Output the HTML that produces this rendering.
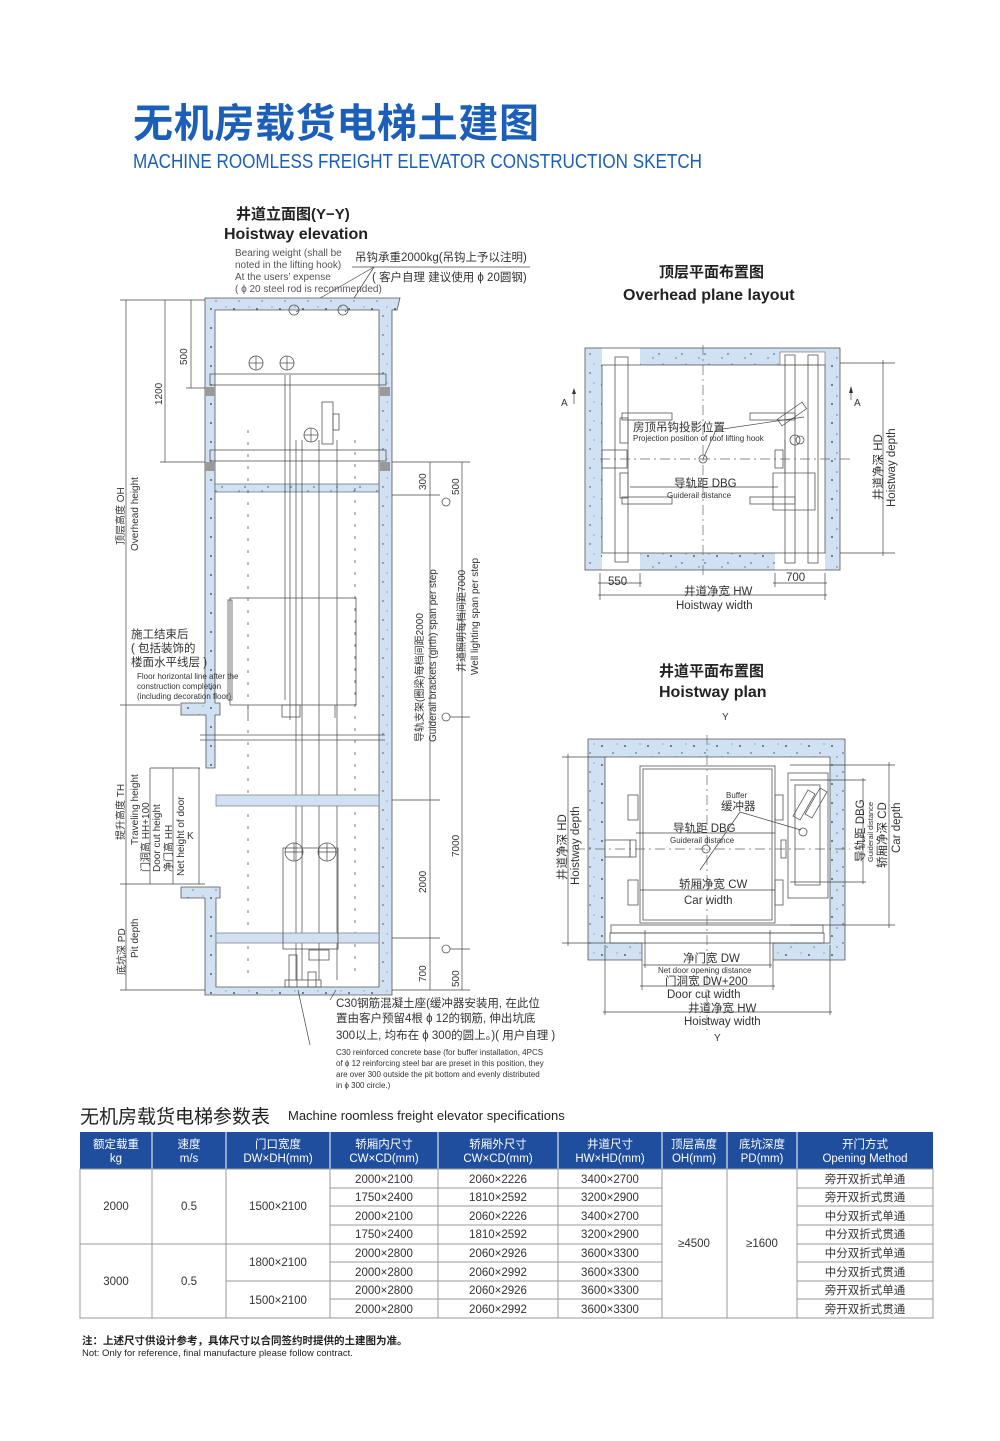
<!DOCTYPE html>
<html><head><meta charset="utf-8"><style>
html,body{margin:0;padding:0;background:#fff}
svg{display:block}
text{font-family:"Liberation Sans","Noto Sans CJK SC",sans-serif;fill:#333}
.s{font-size:10px}
.xs{font-size:8px}
.m{font-size:11.5px}
.w{fill:#cfe1f3;stroke:#666;stroke-width:1}
.wp{fill:url(#dots);stroke:none}
.l{stroke:#555;stroke-width:0.8;fill:none}
.t{stroke:#444;stroke-width:0.7;fill:none}
.d{stroke:#666;stroke-width:0.7;fill:none;stroke-dasharray:10 4 2 4}
.tb text{font-size:11.5px;fill:#333}
</style></head><body>
<svg width="1000" height="1441" viewBox="0 0 1000 1441" xmlns="http://www.w3.org/2000/svg">
<defs>
<pattern id="dots" width="23" height="19" patternUnits="userSpaceOnUse">
<rect width="23" height="19" fill="#cfe1f3"/>
<circle cx="4" cy="5" r="0.9" fill="#333"/><circle cx="15" cy="12" r="0.7" fill="#444"/><circle cx="19" cy="3" r="0.5" fill="#555"/><circle cx="9" cy="16" r="0.6" fill="#444"/>
</pattern>
</defs>
<rect width="1000" height="1441" fill="#fff"/>

<!-- Title -->
<text x="133" y="137" style="font-size:40px;font-weight:bold;fill:#1b5fb8;letter-spacing:1px" textLength="407">无机房载货电梯土建图</text>
<text x="133" y="168" style="font-size:20px;fill:#1b5fb8" textLength="569" lengthAdjust="spacingAndGlyphs">MACHINE ROOMLESS FREIGHT ELEVATOR CONSTRUCTION SKETCH</text>

<!-- Elevation headings -->
<text x="236" y="219" style="font-size:15px;font-weight:bold;fill:#222">井道立面图(Y−Y)</text>
<text x="224" y="239" style="font-size:16px;font-weight:bold;fill:#222">Hoistway elevation</text>
<text x="235" y="256" class="s" style="fill:#555">Bearing weight (shall be</text>
<text x="235" y="268" class="s" style="fill:#555">noted in the lifting hook)</text>
<text x="235" y="280" class="s" style="fill:#555">At the users’  expense</text>
<text x="235" y="292" class="s" style="fill:#555">( ϕ 20 steel rod is recommended)</text>
<text x="355" y="261" class="m">吊钩承重2000kg(吊钩上予以注明)</text>
<text x="372" y="281" class="m">( 客户自理 建议使用 ϕ 20圆钢)</text>
<line class="t" x1="352" y1="267" x2="530" y2="267"/>
<line class="t" x1="374" y1="267" x2="296" y2="312"/>
<line class="t" x1="374" y1="267" x2="345" y2="312"/>

<!-- Elevation walls -->
<path class="wp" d="M205 298 H400 L397 310 H392 V995 H205 V898 H181 V887 H220 V898 H216 V987 H379 V310 H215 V703 H220 V715 H215 V768 H206 V715 H181 V703 H205 Z"/>
<path class="l" d="M205 298 H400 L397 310 H392 V995 H205 V898 H181 V887 H220 V898 H216 V987 H379 V310 H215 V703 H220 V715 H215 V768 H206 V715 H181 V703 H205 Z"/>
<line class="l" x1="200" y1="735" x2="385" y2="735"/><line class="l" x1="200" y1="740" x2="385" y2="740"/>
<!-- hatch beam ends -->
<rect x="205" y="387" width="10" height="9" fill="#999"/><rect x="380" y="387" width="10" height="9" fill="#999"/>
<rect x="205" y="462" width="10" height="9" fill="#999"/><rect x="380" y="462" width="10" height="9" fill="#999"/>
<!-- top beams -->
<rect class="l" x="210" y="374" width="176" height="11"/>
<rect class="l" x="210" y="450" width="176" height="11"/>
<rect x="215" y="484" width="164" height="8" fill="url(#dots)" stroke="#666" stroke-width="0.7"/>
<circle class="l" cx="256" cy="363" r="7"/><line class="t" x1="249" y1="363" x2="263" y2="363"/><line class="t" x1="256" y1="356" x2="256" y2="370"/>
<circle class="l" cx="287" cy="363" r="7"/><line class="t" x1="280" y1="363" x2="294" y2="363"/><line class="t" x1="287" y1="356" x2="287" y2="370"/>
<circle class="l" cx="311" cy="435" r="7"/><line class="t" x1="304" y1="435" x2="318" y2="435"/><line class="t" x1="311" y1="428" x2="311" y2="442"/>
<rect class="l" x="322" y="402" width="11" height="42"/><rect class="l" x="333" y="414" width="6" height="16"/>
<circle class="l" cx="294" cy="310" r="5"/><circle class="l" cx="343" cy="310" r="5"/>
<!-- rails -->
<line class="t" x1="285" y1="375" x2="285" y2="700"/><line class="t" x1="290" y1="375" x2="290" y2="720"/>
<line class="t" x1="296" y1="440" x2="296" y2="980"/><line class="t" x1="302" y1="440" x2="302" y2="980"/>
<line class="t" x1="319" y1="440" x2="319" y2="980"/><line class="t" x1="337" y1="440" x2="337" y2="980"/>
<line class="t" x1="248" y1="430" x2="248" y2="980" style="stroke-dasharray:3 9"/>
<line class="t" x1="355" y1="440" x2="355" y2="980" style="stroke-dasharray:3 9"/>
<!-- car -->
<rect class="l" x="230" y="598" width="126" height="107"/>
<rect class="l" x="228" y="600" width="4" height="100"/>
<line class="t" x1="248" y1="705" x2="248" y2="718"/><line class="t" x1="335" y1="705" x2="335" y2="718"/>
<rect class="l" x="282" y="705" width="18" height="12"/>
<!-- beams lower -->
<rect x="216" y="795" width="163" height="11" fill="#cfe1f3" stroke="#777" stroke-width="0.7"/>
<rect x="216" y="933" width="163" height="10" fill="#cfe1f3" stroke="#777" stroke-width="0.7"/>
<!-- counterweight -->
<rect class="l" x="283" y="848" width="55" height="101"/>
<circle class="l" cx="294" cy="852" r="9"/><line class="t" x1="285" y1="852" x2="303" y2="852"/><line class="t" x1="294" y1="843" x2="294" y2="861"/>
<circle class="l" cx="327" cy="852" r="9"/><line class="t" x1="318" y1="852" x2="336" y2="852"/><line class="t" x1="327" y1="843" x2="327" y2="861"/>
<rect class="l" x="289" y="955" width="8" height="32"/><rect class="l" x="309" y="950" width="20" height="10"/><rect class="l" x="308" y="972" width="8" height="15"/>
<rect class="l" x="285" y="980" width="36" height="7"/>
<line class="t" x1="298" y1="990" x2="310" y2="1045"/><line class="t" x1="336" y1="990" x2="330" y2="1000"/>

<!-- elevation dimensions left -->
<line class="t" x1="126" y1="300" x2="126" y2="990"/>
<line class="t" x1="165" y1="300" x2="165" y2="462"/>
<line class="t" x1="191" y1="300" x2="191" y2="388"/>
<line class="t" x1="120" y1="300" x2="205" y2="300"/>
<line class="t" x1="160" y1="462" x2="205" y2="462"/>
<line class="t" x1="186" y1="388" x2="205" y2="388"/>
<line class="t" x1="120" y1="705" x2="180" y2="705"/>
<line class="t" x1="120" y1="884" x2="205" y2="884"/>
<line class="t" x1="120" y1="990" x2="205" y2="990"/>
<line class="t" x1="150" y1="768" x2="200" y2="768"/>
<line class="t" x1="150" y1="768" x2="150" y2="884"/><line class="t" x1="173" y1="768" x2="173" y2="884"/>
<line class="t" x1="199" y1="768" x2="199" y2="884"/>
<text transform="translate(187,365) rotate(-90)" class="s">500</text>
<text transform="translate(162,405) rotate(-90)" class="s">1200</text>
<text transform="translate(124,545) rotate(-90)" class="s">顶层高度 OH</text>
<text transform="translate(138,551) rotate(-90)" class="s">Overhead height</text>
<text transform="translate(124,840) rotate(-90)" class="s">提升高度 TH</text>
<text transform="translate(138,845) rotate(-90)" class="s">Traveling height</text>
<text transform="translate(149,872) rotate(-90)" class="s">门洞高 HH+100</text>
<text transform="translate(160,872) rotate(-90)" class="s">Door cut height</text>
<text transform="translate(172,872) rotate(-90)" class="s">净门高 HH</text>
<text transform="translate(184,876) rotate(-90)" class="s">Net height of door</text>
<text x="187" y="839" class="s">K</text>
<text transform="translate(125,975) rotate(-90)" class="s">底坑深 PD</text>
<text transform="translate(138,958) rotate(-90)" class="s">Pit depth</text>
<text x="131" y="638" class="m">施工结束后</text>
<text x="131" y="652" class="m">( 包括装饰的</text>
<text x="131" y="666" class="m">楼面水平线层 )</text>
<text x="137" y="679" class="xs">Floor horizontal line after the</text>
<text x="137" y="689" class="xs">construction completion</text>
<text x="137" y="699" class="xs">(including decoration floor)</text>

<!-- elevation dimensions right -->
<line class="t" x1="430" y1="462" x2="430" y2="990"/>
<line class="t" x1="462" y1="462" x2="462" y2="990"/>
<line class="t" x1="392" y1="462" x2="470" y2="462"/>
<line class="t" x1="392" y1="495" x2="440" y2="495"/>
<line class="t" x1="392" y1="800" x2="440" y2="800"/>
<line class="t" x1="392" y1="938" x2="440" y2="938"/>
<line class="t" x1="392" y1="990" x2="470" y2="990"/>
<line class="t" x1="450" y1="717" x2="470" y2="717"/>
<line class="t" x1="450" y1="949" x2="470" y2="949"/>
<circle class="l" cx="446" cy="717" r="4"/><circle class="l" cx="446" cy="949" r="4"/>
<circle class="l" cx="446" cy="502" r="4"/>
<text transform="translate(426,490) rotate(-90)" class="s">300</text>
<text transform="translate(459,495) rotate(-90)" class="s">500</text>
<text transform="translate(426,893) rotate(-90)" class="s">2000</text>
<text transform="translate(459,857) rotate(-90)" class="s">7000</text>
<text transform="translate(426,982) rotate(-90)" class="s">700</text>
<text transform="translate(459,987) rotate(-90)" class="s">500</text>
<text transform="translate(423,742) rotate(-90)" class="s">导轨支架(圈梁)每档间距2000</text>
<text transform="translate(436,742) rotate(-90)" class="s">Guiderail brackets (girth) span per step</text>
<text transform="translate(465,672) rotate(-90)" class="s">井道照明每档间距7000</text>
<text transform="translate(478,675) rotate(-90)" class="s">Well lighting span per step</text>

<text x="336" y="1007" class="m">C30钢筋混凝土座(缓冲器安装用, 在此位</text>
<text x="336" y="1022" class="m">置由客户预留4根 ϕ 12的钢筋, 伸出坑底</text>
<text x="336" y="1039" class="m">300以上, 均布在 ϕ 300的圆上。)( 用户自理 )</text>
<text x="336" y="1055" class="xs">C30 reinforced concrete base (for buffer installation, 4PCS</text>
<text x="336" y="1066" class="xs">of ϕ 12 reinforcing steel bar  are preset in this position, they</text>
<text x="336" y="1077" class="xs">are over 300 outside the pit bottom and evenly distributed</text>
<text x="336" y="1088" class="xs">in ϕ 300 circle.)</text>

<!-- Overhead plane -->
<text x="659" y="277" style="font-size:15px;font-weight:bold;fill:#222">顶层平面布置图</text>
<text x="623" y="300" style="font-size:16px;font-weight:bold;fill:#222">Overhead plane layout</text>
<path class="wp" d="M585 348 H840 V570 H585 Z M602 365 V553 H640 V553 H775 V553 H825 V365 H780 V365 H640 V365 Z" fill-rule="evenodd"/>
<rect x="602" y="348" width="38" height="17" fill="#fff"/>
<rect x="602" y="553" width="38" height="17" fill="#fff"/>
<rect x="775" y="553" width="50" height="17" fill="#fff"/>
<rect x="780" y="352" width="45" height="13" fill="#fff" stroke="#666" stroke-width="0.6"/>
<rect class="l" x="585" y="348" width="255" height="222"/>
<rect class="l" x="602" y="365" width="223" height="188"/>
<rect class="l" x="615" y="357" width="13" height="205"/>
<rect class="l" x="785" y="355" width="10" height="208"/><rect class="l" x="808" y="355" width="10" height="208"/>
<line class="d" x1="600" y1="459" x2="850" y2="459"/>
<line class="d" x1="703" y1="345" x2="703" y2="575"/>
<rect class="l" x="622" y="413" width="50" height="7"/><rect class="l" x="750" y="413" width="45" height="7"/>
<rect class="l" x="622" y="497" width="50" height="7"/><rect class="l" x="750" y="497" width="45" height="7"/>
<rect class="l" x="620" y="418" width="8" height="25"/><rect class="l" x="620" y="473" width="8" height="25"/>
<rect class="l" x="602" y="450" width="25" height="18"/>
<rect class="l" x="775" y="450" width="8" height="18"/>
<path class="l" d="M773 473 H815 V510 H773 Z"/><path class="l" d="M785 473 V440"/>
<rect class="l" x="777" y="410" width="30" height="8" transform="rotate(-35 792 414)"/>
<circle class="l" cx="795" cy="440" r="5"/><circle class="l" cx="800" cy="440" r="4"/>
<circle class="l" cx="703" cy="459" r="4"/>
<line class="t" x1="703" y1="459" x2="716" y2="430"/><line class="t" x1="716" y1="430" x2="804" y2="417"/>
<text x="633" y="431" class="m">房顶吊钩投影位置</text>
<text x="633" y="441" class="xs">Projection position of roof lifting hook</text>
<line class="t" x1="630" y1="487" x2="778" y2="487"/>
<text x="674" y="487" class="m">导轨距 DBG</text>
<text x="667" y="498" class="xs">Guiderail distance</text>
<text x="561" y="406" class="s">A</text><line class="t" x1="574" y1="392" x2="574" y2="404"/><path d="M572 394 L574 388 L576 394 Z" fill="#333"/>
<text x="854" y="406" class="s">A</text><line class="t" x1="851" y1="388" x2="851" y2="400"/><path d="M849 393 L851 386 L853 393 Z" fill="#333"/>
<!-- dims -->
<line class="t" x1="600" y1="573" x2="600" y2="600"/><line class="t" x1="640" y1="573" x2="640" y2="587"/>
<line class="t" x1="775" y1="573" x2="775" y2="587"/><line class="t" x1="825" y1="573" x2="825" y2="600"/>
<line class="t" x1="598" y1="583" x2="642" y2="583"/><line class="t" x1="773" y1="583" x2="827" y2="583"/>
<line class="t" x1="598" y1="595" x2="827" y2="595"/>
<text x="608" y="585" class="m">550</text><text x="786" y="581" class="m">700</text>
<text x="684" y="595" class="m">井道净宽 HW</text>
<text x="676" y="609" class="m">Hoistway width</text>
<line class="t" x1="840" y1="363" x2="895" y2="363"/><line class="t" x1="840" y1="553" x2="895" y2="553"/>
<line class="t" x1="883" y1="360" x2="883" y2="556"/>
<text transform="translate(882,500) rotate(-90)" class="m">井道净深 HD</text>
<text transform="translate(895,507) rotate(-90)" class="m">Hoistway depth</text>

<!-- Hoistway plan -->
<text x="659" y="676" style="font-size:15px;font-weight:bold;fill:#222">井道平面布置图</text>
<text x="659" y="697" style="font-size:16px;font-weight:bold;fill:#222">Hoistway plan</text>
<text x="722" y="720" class="s">Y</text>
<path class="wp" d="M588 739 H845 V960 H773 V943 H830 V757 H605 V943 H642 V960 H588 Z"/>
<path class="l" d="M588 739 H845 V960 H773 V943 H830 V757 H605 V943 H642 V960 H588 Z"/>
<rect class="l" x="640" y="766" width="135" height="157"/>
<rect class="l" x="643" y="769" width="129" height="151"/>
<rect class="l" x="611" y="925" width="212" height="8"/><rect class="l" x="610" y="933" width="214" height="10"/>
<line class="d" x1="575" y1="849" x2="850" y2="849"/>
<line class="d" x1="707" y1="735" x2="707" y2="1030"/>
<circle class="l" cx="706" cy="849" r="4"/>
<rect class="l" x="605" y="840" width="25" height="17"/><rect class="l" x="630" y="840" width="6" height="17"/>
<rect class="l" x="628" y="795" width="10" height="25"/><rect class="l" x="628" y="880" width="10" height="25"/>
<rect class="l" x="775" y="795" width="8" height="25"/><rect class="l" x="775" y="880" width="8" height="25"/>
<rect class="l" x="781" y="840" width="5" height="18"/>
<rect class="l" x="788" y="773" width="40" height="125"/>
<rect class="l" x="795" y="785" width="25" height="100"/>
<rect class="l" x="800" y="790" width="8" height="30" transform="rotate(30 804 805)"/>
<rect class="l" x="812" y="788" width="8" height="30" transform="rotate(30 816 803)"/>
<circle class="l" cx="803" cy="832" r="4"/>
<line class="t" x1="700" y1="870" x2="740" y2="812"/><line class="t" x1="740" y1="812" x2="801" y2="830"/>
<text x="726" y="798" class="xs">Buffer</text>
<text x="721" y="810" class="m">缓冲器</text>
<line class="t" x1="636" y1="833" x2="775" y2="833"/>
<text x="673" y="832" class="m">导轨距 DBG</text>
<text x="670" y="843" class="xs">Guiderail distance</text>
<line class="t" x1="640" y1="890" x2="775" y2="890"/>
<text x="679" y="888" class="m">轿厢净宽 CW</text>
<text x="684" y="904" class="m">Car width</text>
<line class="t" x1="645" y1="930" x2="645" y2="968"/><line class="t" x1="770" y1="930" x2="770" y2="968"/>
<line class="t" x1="642" y1="960" x2="642" y2="990"/><line class="t" x1="773" y1="960" x2="773" y2="990"/>
<line class="t" x1="605" y1="945" x2="605" y2="1015"/><line class="t" x1="830" y1="945" x2="830" y2="1015"/>
<line class="t" x1="643" y1="965" x2="772" y2="965"/>
<line class="t" x1="640" y1="986" x2="775" y2="986"/>
<line class="t" x1="603" y1="1012" x2="832" y2="1012"/>
<text x="683" y="962" class="m">净门宽 DW</text>
<text x="658" y="973" class="xs">Net door opening distance</text>
<text x="665" y="985" class="m">门洞宽 DW+200</text>
<text x="667" y="998" class="m">Door cut width</text>
<text x="688" y="1012" class="m">井道净宽 HW</text>
<text x="684" y="1025" class="m">Hoistway width</text>
<text x="714" y="1041" class="s">Y</text>
<line class="t" x1="562" y1="757" x2="605" y2="757"/><line class="t" x1="562" y1="943" x2="605" y2="943"/>
<line class="t" x1="568" y1="754" x2="568" y2="946"/>
<text transform="translate(566,880) rotate(-90)" class="m">井道净深 HD</text>
<text transform="translate(579,885) rotate(-90)" class="m">Hoistway depth</text>
<line class="t" x1="790" y1="765" x2="895" y2="765"/><line class="t" x1="790" y1="925" x2="895" y2="925"/>
<line class="t" x1="790" y1="780" x2="866" y2="780"/><line class="t" x1="790" y1="882" x2="866" y2="882"/>
<line class="t" x1="863" y1="778" x2="863" y2="884"/><line class="t" x1="889" y1="762" x2="889" y2="928"/>
<text transform="translate(864,862) rotate(-90)" class="m">导轨距 DBG</text>
<text transform="translate(873,862) rotate(-90)" style="font-size:7.5px">Guiderail distance</text>
<text transform="translate(886,868) rotate(-90)" class="m">轿厢净深 CD</text>
<text transform="translate(900,853) rotate(-90)" class="m">Car depth</text>

<!-- Table -->
<text x="80" y="1123" style="font-size:19px;fill:#222">无机房载货电梯参数表</text>
<text x="288" y="1120" style="font-size:13px;fill:#222">Machine roomless freight elevator specifications</text>
<g class="tb">
<rect x="80" y="1132" width="853" height="37" fill="#1f4e9e"/>
<g style="fill:#fff" font-size="11.5">
<text x="116" y="1148" text-anchor="middle" style="fill:#fff">额定载重</text><text x="116" y="1162" text-anchor="middle" style="fill:#fff">kg</text>
<text x="189" y="1148" text-anchor="middle" style="fill:#fff">速度</text><text x="189" y="1162" text-anchor="middle" style="fill:#fff">m/s</text>
<text x="278" y="1148" text-anchor="middle" style="fill:#fff">门口宽度</text><text x="278" y="1162" text-anchor="middle" style="fill:#fff">DW×DH(mm)</text>
<text x="384" y="1148" text-anchor="middle" style="fill:#fff">轿厢内尺寸</text><text x="384" y="1162" text-anchor="middle" style="fill:#fff">CW×CD(mm)</text>
<text x="498" y="1148" text-anchor="middle" style="fill:#fff">轿厢外尺寸</text><text x="498" y="1162" text-anchor="middle" style="fill:#fff">CW×CD(mm)</text>
<text x="610" y="1148" text-anchor="middle" style="fill:#fff">井道尺寸</text><text x="610" y="1162" text-anchor="middle" style="fill:#fff">HW×HD(mm)</text>
<text x="694" y="1148" text-anchor="middle" style="fill:#fff">顶层高度</text><text x="694" y="1162" text-anchor="middle" style="fill:#fff">OH(mm)</text>
<text x="762" y="1148" text-anchor="middle" style="fill:#fff">底坑深度</text><text x="762" y="1162" text-anchor="middle" style="fill:#fff">PD(mm)</text>
<text x="865" y="1148" text-anchor="middle" style="fill:#fff">开门方式</text><text x="865" y="1162" text-anchor="middle" style="fill:#fff">Opening Method</text>
</g>
<g stroke="#fff" stroke-width="1">
<line x1="152" y1="1132" x2="152" y2="1169"/><line x1="226" y1="1132" x2="226" y2="1169"/><line x1="330" y1="1132" x2="330" y2="1169"/><line x1="438" y1="1132" x2="438" y2="1169"/><line x1="558" y1="1132" x2="558" y2="1169"/><line x1="662" y1="1132" x2="662" y2="1169"/><line x1="727" y1="1132" x2="727" y2="1169"/><line x1="797" y1="1132" x2="797" y2="1169"/>
</g>
<g stroke="#999" stroke-width="1" fill="none">
<rect x="80" y="1169" width="853" height="149"/>
<line x1="152" y1="1169" x2="152" y2="1318"/><line x1="226" y1="1169" x2="226" y2="1318"/><line x1="330" y1="1169" x2="330" y2="1318"/><line x1="438" y1="1169" x2="438" y2="1318"/><line x1="558" y1="1169" x2="558" y2="1318"/><line x1="662" y1="1169" x2="662" y2="1318"/><line x1="727" y1="1169" x2="727" y2="1318"/><line x1="797" y1="1169" x2="797" y2="1318"/>
<line x1="80" y1="1244" x2="662" y2="1244"/>
<line x1="226" y1="1281" x2="662" y2="1281"/>
<path d="M330 1188 H662 M330 1206 H662 M330 1225 H662 M330 1262 H662 M330 1299 H662 M797 1188 H933 M797 1206 H933 M797 1225 H933 M797 1244 H933 M797 1262 H933 M797 1281 H933 M797 1299 H933"/>
</g>
<g text-anchor="middle">
<text x="116" y="1210">2000</text><text x="189" y="1210">0.5</text><text x="278" y="1210">1500×2100</text>
<text x="116" y="1285">3000</text><text x="189" y="1285">0.5</text><text x="278" y="1266">1800×2100</text><text x="278" y="1304">1500×2100</text>
<text x="384" y="1183">2000×2100</text><text x="384" y="1201">1750×2400</text><text x="384" y="1220">2000×2100</text><text x="384" y="1238">1750×2400</text>
<text x="384" y="1257">2000×2800</text><text x="384" y="1276">2000×2800</text><text x="384" y="1294">2000×2800</text><text x="384" y="1313">2000×2800</text>
<text x="498" y="1183">2060×2226</text><text x="498" y="1201">1810×2592</text><text x="498" y="1220">2060×2226</text><text x="498" y="1238">1810×2592</text>
<text x="498" y="1257">2060×2926</text><text x="498" y="1276">2060×2992</text><text x="498" y="1294">2060×2926</text><text x="498" y="1313">2060×2992</text>
<text x="610" y="1183">3400×2700</text><text x="610" y="1201">3200×2900</text><text x="610" y="1220">3400×2700</text><text x="610" y="1238">3200×2900</text>
<text x="610" y="1257">3600×3300</text><text x="610" y="1276">3600×3300</text><text x="610" y="1294">3600×3300</text><text x="610" y="1313">3600×3300</text>
<text x="694" y="1247">≥4500</text><text x="762" y="1247">≥1600</text>
<text x="865" y="1183">旁开双折式单通</text><text x="865" y="1201">旁开双折式贯通</text><text x="865" y="1220">中分双折式单通</text><text x="865" y="1238">中分双折式贯通</text>
<text x="865" y="1257">中分双折式单通</text><text x="865" y="1276">中分双折式贯通</text><text x="865" y="1294">旁开双折式单通</text><text x="865" y="1313">旁开双折式贯通</text>
</g>
</g>
<text x="82" y="1344" style="font-size:10.5px;font-weight:bold;fill:#222">注：上述尺寸供设计参考，具体尺寸以合同签约时提供的土建图为准。</text>
<text x="82" y="1356" style="font-size:9.5px;fill:#222">Not: Only for reference, final manufacture please follow contract.</text>
</svg>
</body></html>
